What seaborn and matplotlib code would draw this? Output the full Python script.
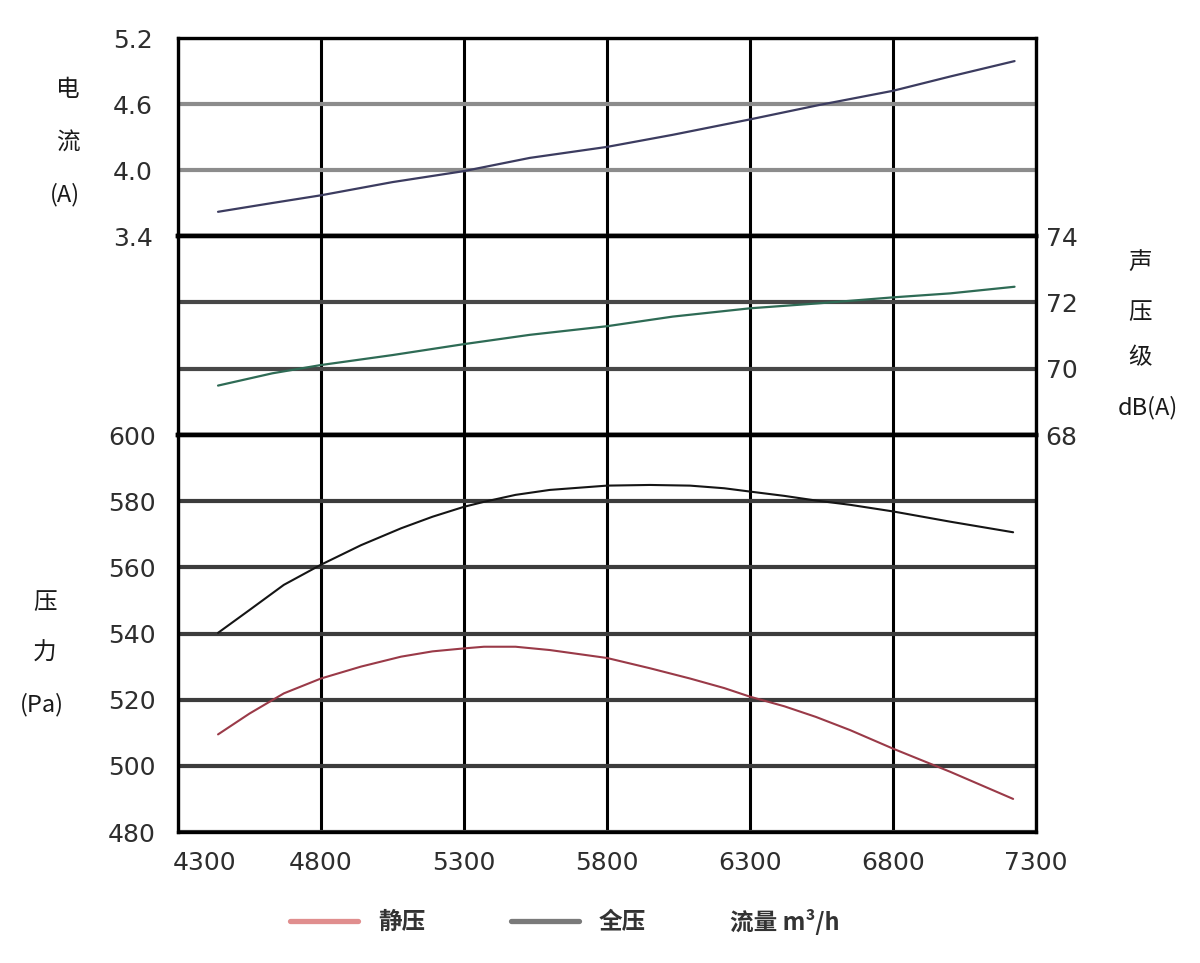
import matplotlib
matplotlib.use("Agg")
import matplotlib.pyplot as plt
import matplotlib.transforms as mtransforms
from matplotlib.lines import Line2D
import seaborn as sns

sns.set_theme(style="white")
plt.rcParams['font.family'] = ['DejaVu Sans', 'Noto Sans CJK SC']

# ---- data ----
flow = [4440, 4630, 4800, 5050, 5300, 5530, 5800, 6030, 6300, 6540, 6800, 7000, 7225]
current_A = [3.62, 3.70, 3.77, 3.89, 3.99, 4.11, 4.21, 4.32, 4.46, 4.59, 4.72, 4.85, 4.99]
sound_dB = [69.49, 69.86, 70.11, 70.41, 70.74, 71.02, 71.28, 71.57, 71.82, 71.97, 72.15, 72.27, 72.47]

flow_p = [4440, 4550, 4670, 4800, 4940, 5080, 5190, 5300, 5370, 5480, 5600, 5800,
          5950, 6090, 6210, 6300, 6420, 6530, 6650, 6800, 7000, 7220]
total_Pa = [540.2, 547.1, 554.7, 560.8, 566.7, 571.8, 575.3, 578.3, 579.8, 581.9, 583.4, 584.7,
            584.9, 584.7, 583.9, 582.9, 581.6, 580.2, 578.9, 576.9, 573.8, 570.6]
static_Pa = [509.5, 515.8, 521.9, 526.4, 530.0, 533.0, 534.6, 535.5, 536.0, 536.0, 535.0, 532.6,
             529.5, 526.4, 523.5, 520.9, 518.0, 514.8, 510.8, 505.2, 498.2, 490.0]

x_ticks = [4300, 4800, 5300, 5800, 6300, 6800, 7300]
current_ticks = [3.4, 4.0, 4.6, 5.2]
sound_ticks = [68, 70, 72, 74]
pressure_ticks = [480, 500, 520, 540, 560, 580, 600]

fig = plt.figure(figsize=(12, 9.63), dpi=100)
gs = fig.add_gridspec(3, 1, height_ratios=[198, 199, 397], hspace=0,
                      left=178/1200, right=1036/1200, top=1-38/963, bottom=1-832/963)
ax1 = fig.add_subplot(gs[0])
ax2 = fig.add_subplot(gs[1], sharex=ax1)
ax3 = fig.add_subplot(gs[2], sharex=ax1)

tick_color = '#2e2e2e'
tick_fs = 18

sns.lineplot(x=flow, y=current_A, ax=ax1, color='#3c3c60', lw=1.6)
sns.lineplot(x=flow, y=sound_dB, ax=ax2, color='#2e6b55', lw=1.6)
sns.lineplot(x=flow_p, y=total_Pa, ax=ax3, color='#151515', lw=1.5)
sns.lineplot(x=flow_p, y=static_Pa, ax=ax3, color='#9a3a48', lw=1.5)

for ax in (ax1, ax2, ax3):
    ax.set_xlim(4300, 7300)
    ax.set_xticks(x_ticks)
    ax.set_axisbelow(True)
    ax.grid(True, axis='x', color='black', lw=2.2)
    for s in ax.spines.values():
        s.set_color('black')
        s.set_linewidth(2.4)
    ax.tick_params(length=0, colors=tick_color, labelsize=tick_fs)
    ax.set_xlabel('')
    ax.set_ylabel('')

ax1.set_ylim(3.4, 5.2)
ax1.set_yticks(current_ticks)
ax1.set_yticklabels([f"{v:.1f}" for v in current_ticks])
ax1.grid(True, axis='y', color='#8c8c8c', lw=3.0)
ax1.tick_params(axis='y', pad=18)
ax1.tick_params(axis='x', labelbottom=False)

ax2.set_ylim(68, 74)
ax2.set_yticks(sound_ticks)
ax2.grid(True, axis='y', color='#474747', lw=3.0)
ax2.yaxis.tick_right()
ax2.tick_params(axis='y', left=False, labelleft=False, right=True, labelright=True, pad=7)
ax2.tick_params(axis='x', labelbottom=False)

ax3.set_ylim(480, 600)
ax3.set_yticks(pressure_ticks)
ax3.grid(True, axis='y', color='#3c3c3c', lw=3.0)
ax3.tick_params(axis='y', pad=16)
ax3.tick_params(axis='x', pad=14)

ax1.spines['bottom'].set_linewidth(3.2)
ax2.spines['top'].set_linewidth(3.2)
ax2.spines['bottom'].set_linewidth(3.2)
ax3.spines['top'].set_linewidth(3.2)

# first x tick label is shifted right in the reference
fig.canvas.draw()
lbl = ax3.get_xticklabels()[0]
lbl.set_transform(lbl.get_transform() + mtransforms.ScaledTranslation(0.27, 0, fig.dpi_scale_trans))

cjk = ['Noto Sans CJK SC', 'DejaVu Sans']
lab_kw = dict(ha='center', va='center', fontsize=17, color='#1a1a1a', family=cjk)
fig.text(68/1200, 1-90/963, '电', **lab_kw)
fig.text(68/1200, 1-143/963, '流', **lab_kw)
fig.text(65/1200, 1-195/963, '(A)', **lab_kw)
fig.text(1140/1200, 1-262/963, '声', **lab_kw)
fig.text(1140/1200, 1-312/963, '压', **lab_kw)
fig.text(1140/1200, 1-358/963, '级', **lab_kw)
fig.text(1148/1200, 1-408/963, 'dB(A)', **lab_kw)
fig.text(45/1200, 1-602/963, '压', **lab_kw)
fig.text(45/1200, 1-653/963, '力', **lab_kw)
fig.text(42/1200, 1-705/963, '(Pa)', **lab_kw)

handles = [Line2D([], [], color='#e08e8e', lw=3.8), Line2D([], [], color='#7a7a7a', lw=3.8)]
leg = fig.legend(handles, ['静压', '全压'], loc='center', bbox_to_anchor=(468/1200, 1-922/963),
                 ncol=2, frameon=False, handlelength=2.9, handletextpad=0.85, columnspacing=3.6,
                 borderpad=0, borderaxespad=0, prop={'family': cjk, 'size': 17, 'weight': 'bold'})
for t in leg.get_texts():
    t.set_color('#333333')
fig.text(785/1200, 1-922/963, '流量 m³/h', ha='center', va='center', fontsize=17,
         fontweight='bold', color='#333333', family=cjk)

fig.savefig('out.png', dpi=100, facecolor='white')
